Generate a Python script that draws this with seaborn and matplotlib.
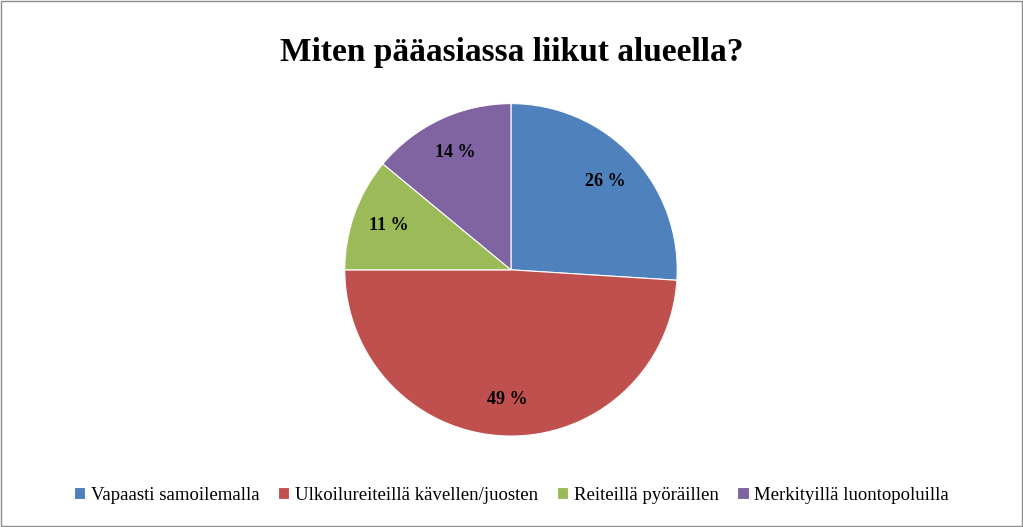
import matplotlib
matplotlib.use("Agg")
import matplotlib.pyplot as plt
import seaborn as sns
from matplotlib.patches import Rectangle

sns.set_style("white")
plt.rcParams['font.family'] = ['Liberation Serif', 'DejaVu Serif']
plt.rcParams['text.color'] = 'black'

# data
categories = ['Vapaasti samoilemalla', 'Ulkoilureiteillä kävellen/juosten',
              'Reiteillä pyöräillen', 'Merkityillä luontopoluilla']
values = [26, 49, 11, 14]
colors = ['#4F81BD', '#C0504D', '#9BBB59', '#8064A2']

fig = plt.figure(figsize=(10.23, 5.27), dpi=100)
fig.patches.append(Rectangle((0.001, 0.002), 0.998, 0.996, transform=fig.transFigure,
                             fill=False, edgecolor='#8C8C8C', linewidth=1))

ax = fig.add_axes([0.4995 - 0.1633, 0.488 - 0.317, 0.3266, 0.634])
wedges, texts, autotexts = ax.pie(values, colors=colors, startangle=90, counterclock=False,
                                  autopct=lambda p: f'{p:.0f} %', pctdistance=0.78,
                                  wedgeprops=dict(linewidth=0.8, edgecolor='white'))
for t in autotexts:
    t.set_fontsize(13)
    t.set_fontweight('bold')
    t.set_color('black')
ax.set_xlim(-1.005, 1.005)
ax.set_ylim(-1.005, 1.005)
ax.set_aspect('equal')

fig.suptitle('Miten pääasiassa liikut alueella?', fontsize=24, fontweight='bold',
             y=0.93, color='black')

fig.legend(wedges, categories, loc='center', bbox_to_anchor=(0.5, 0.06), ncol=4,
           frameon=False, fontsize=13.5, handlelength=0.6, handleheight=0.6,
           handletextpad=0.3, columnspacing=1.0, labelcolor='black')

fig.savefig('out.png', dpi=100)
